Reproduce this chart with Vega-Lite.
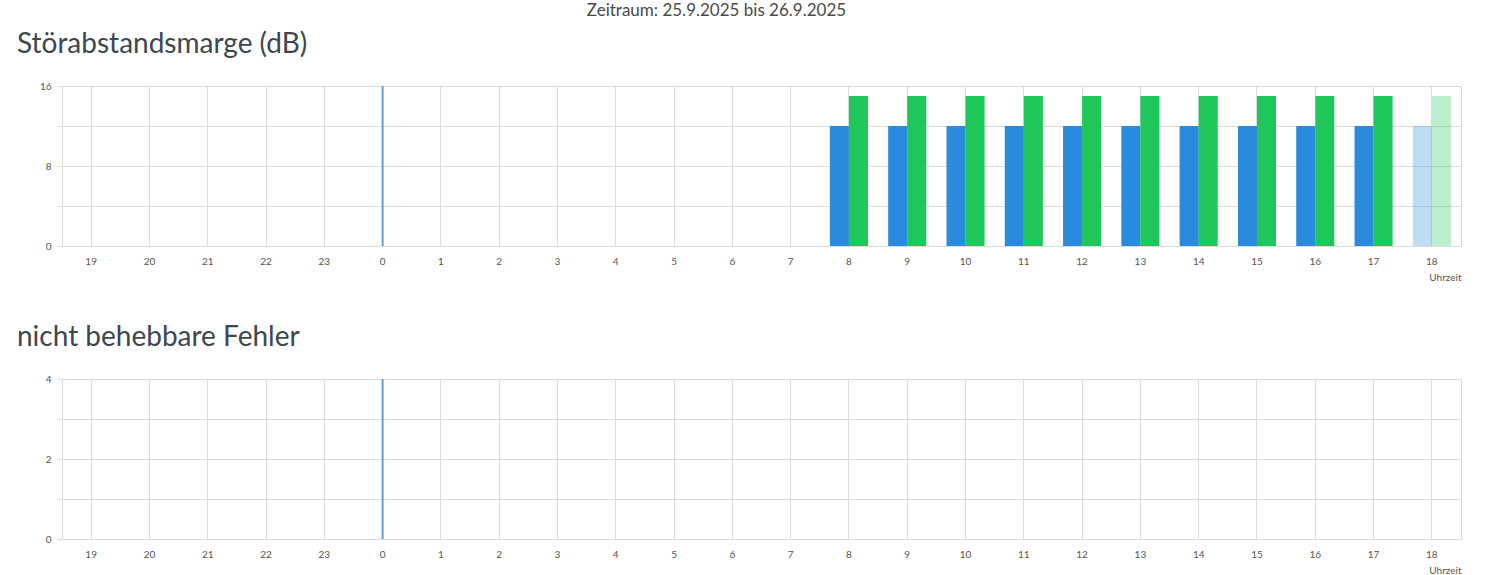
{
  "$schema": "https://vega.github.io/schema/vega-lite/v6.json",
  "background": "white",
  "padding": {"left": 16, "top": 1, "right": 0, "bottom": 0},
  "title": {
    "text": "Zeitraum: 25.9.2025 bis 26.9.2025",
    "anchor": "middle",
    "fontSize": 17,
    "fontWeight": "normal",
    "color": "#4a4a4a",
    "offset": 11
  },
  "config": {
    "font": "Lato",
    "view": {"stroke": "#d9d9d9"},
    "title": {"anchor": "start", "frame": "group", "fontSize": 28, "fontWeight": "normal", "color": "#3d4750", "offset": 22, "dx": -45},
    "axis": {
      "gridColor": "#dcdcdc",
      "tickColor": "#dcdcdc",
      "domain": false,
      "labelFontSize": 10,
      "labelColor": "#555555",
      "titleFontSize": 10,
      "titleFontWeight": "normal",
      "titleColor": "#555555"
    },
    "axisX": {"tickSize": 0, "grid": true, "labelPadding": 10, "labelAngle": 0, "bandPosition": 0.5, "titleAnchor": "end", "titleAlign": "right", "titlePadding": 6},
    "axisY": {"tickSize": 5, "labelPadding": 6}
  },
  "datasets": {
    "snr": [
      {"stunde": "8", "richtung": "Downstream", "wert": 12, "status": "abgeschlossen"},
      {"stunde": "8", "richtung": "Upstream", "wert": 15, "status": "abgeschlossen"},
      {"stunde": "9", "richtung": "Downstream", "wert": 12, "status": "abgeschlossen"},
      {"stunde": "9", "richtung": "Upstream", "wert": 15, "status": "abgeschlossen"},
      {"stunde": "10", "richtung": "Downstream", "wert": 12, "status": "abgeschlossen"},
      {"stunde": "10", "richtung": "Upstream", "wert": 15, "status": "abgeschlossen"},
      {"stunde": "11", "richtung": "Downstream", "wert": 12, "status": "abgeschlossen"},
      {"stunde": "11", "richtung": "Upstream", "wert": 15, "status": "abgeschlossen"},
      {"stunde": "12", "richtung": "Downstream", "wert": 12, "status": "abgeschlossen"},
      {"stunde": "12", "richtung": "Upstream", "wert": 15, "status": "abgeschlossen"},
      {"stunde": "13", "richtung": "Downstream", "wert": 12, "status": "abgeschlossen"},
      {"stunde": "13", "richtung": "Upstream", "wert": 15, "status": "abgeschlossen"},
      {"stunde": "14", "richtung": "Downstream", "wert": 12, "status": "abgeschlossen"},
      {"stunde": "14", "richtung": "Upstream", "wert": 15, "status": "abgeschlossen"},
      {"stunde": "15", "richtung": "Downstream", "wert": 12, "status": "abgeschlossen"},
      {"stunde": "15", "richtung": "Upstream", "wert": 15, "status": "abgeschlossen"},
      {"stunde": "16", "richtung": "Downstream", "wert": 12, "status": "abgeschlossen"},
      {"stunde": "16", "richtung": "Upstream", "wert": 15, "status": "abgeschlossen"},
      {"stunde": "17", "richtung": "Downstream", "wert": 12, "status": "abgeschlossen"},
      {"stunde": "17", "richtung": "Upstream", "wert": 15, "status": "abgeschlossen"},
      {"stunde": "18", "richtung": "Downstream", "wert": 12, "status": "laufend"},
      {"stunde": "18", "richtung": "Upstream", "wert": 15, "status": "laufend"}
    ],
    "fehler": [
      {"stunde": "8", "wert": 0}, {"stunde": "9", "wert": 0}, {"stunde": "10", "wert": 0},
      {"stunde": "11", "wert": 0}, {"stunde": "12", "wert": 0}, {"stunde": "13", "wert": 0},
      {"stunde": "14", "wert": 0}, {"stunde": "15", "wert": 0}, {"stunde": "16", "wert": 0},
      {"stunde": "17", "wert": 0}, {"stunde": "18", "wert": 0}
    ],
    "tageswechsel": [{"stunde": "0"}]
  },
  "vconcat": [
    {
      "title": "Störabstandsmarge (dB)",
      "width": 1399,
      "height": 160,
      "layer": [
        {
          "data": {"name": "snr"},
          "mark": {"type": "bar"},
          "encoding": {
            "x": {"field": "stunde", "type": "nominal", "title": "Uhrzeit",
              "scale": {"domain": ["19","20","21","22","23","0","1","2","3","4","5","6","7","8","9","10","11","12","13","14","15","16","17","18"], "paddingInner": 0, "paddingOuter": 0}},
            "xOffset": {"field": "richtung", "type": "nominal", "scale": {"domain": ["Downstream", "Upstream"], "paddingInner": 0, "paddingOuter": 0.53}},
            "y": {"field": "wert", "type": "quantitative", "title": null,
              "scale": {"domain": [0, 16]},
              "axis": {"values": [0, 4, 8, 12, 16], "labelExpr": "datum.value % 8 == 0 ? datum.label : ''"}},
            "color": {"field": "richtung", "type": "nominal", "legend": null,
              "scale": {"domain": ["Downstream", "Upstream"], "range": ["#2a8ade", "#1fc75a"]}},
            "opacity": {"field": "status", "type": "nominal", "legend": null,
              "scale": {"domain": ["abgeschlossen", "laufend"], "range": [1, 0.3]}}
          }
        },
        {
          "data": {"name": "tageswechsel"},
          "mark": {"type": "rule", "color": "#5a9fd8", "strokeWidth": 2},
          "encoding": {
            "x": {"field": "stunde", "type": "nominal"}
          }
        }
      ]
    },
    {
      "title": "nicht behebbare Fehler",
      "width": 1399,
      "height": 160,
      "layer": [
        {
          "data": {"name": "fehler"},
          "mark": {"type": "bar", "color": "#2a8ade"},
          "encoding": {
            "x": {"field": "stunde", "type": "nominal", "title": "Uhrzeit",
              "scale": {"domain": ["19","20","21","22","23","0","1","2","3","4","5","6","7","8","9","10","11","12","13","14","15","16","17","18"], "paddingInner": 0, "paddingOuter": 0}},
            "y": {"field": "wert", "type": "quantitative", "title": null,
              "scale": {"domain": [0, 4]},
              "axis": {"values": [0, 1, 2, 3, 4], "labelExpr": "datum.value % 2 == 0 ? datum.label : ''"}}
          }
        },
        {
          "data": {"name": "tageswechsel"},
          "mark": {"type": "rule", "color": "#5a9fd8", "strokeWidth": 2},
          "encoding": {
            "x": {"field": "stunde", "type": "nominal"}
          }
        }
      ]
    }
  ],
  "spacing": 40
}
